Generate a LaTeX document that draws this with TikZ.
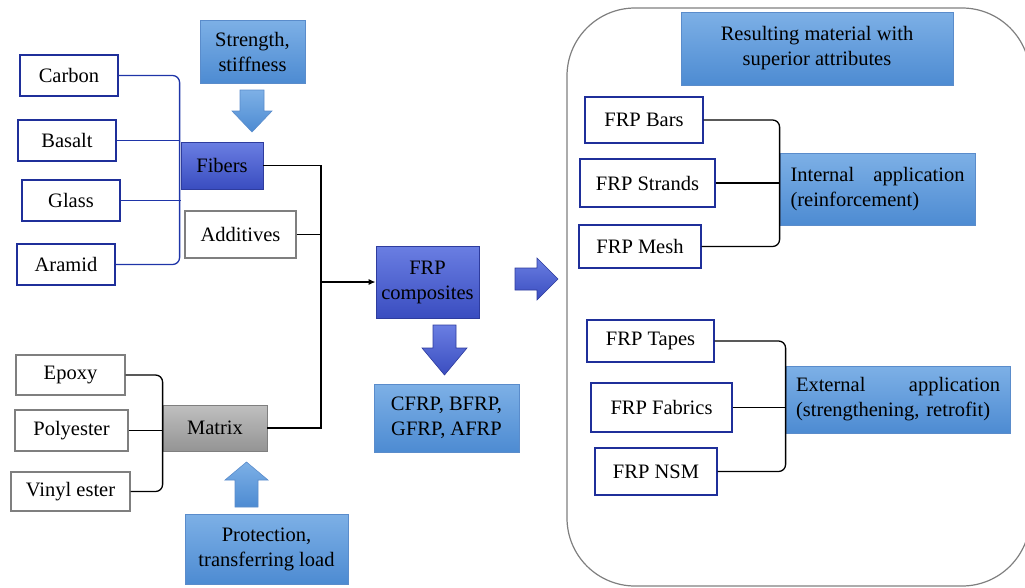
\documentclass[tikz,border=0pt]{standalone}
\usepackage{fontspec}
\setmainfont{Liberation Serif}
\usetikzlibrary{calc,arrows.meta}
\definecolor{navy}{HTML}{1F2F9A}
\definecolor{gbord}{HTML}{7F7F7F}
\definecolor{lbtop}{HTML}{7DB0E6}
\definecolor{lbbot}{HTML}{4D8BD2}
\definecolor{lbbord}{HTML}{5A8CCB}
\definecolor{dbtop}{HTML}{6A7EE2}
\definecolor{dbbot}{HTML}{3A4DC0}
\definecolor{dbbord}{HTML}{2E3C9E}
\definecolor{bline}{HTML}{1F35A8}
\begin{document}
\begin{tikzpicture}[x=1pt,y=-1pt,
  every node/.style={font=\fontsize{20.5}{25}\selectfont, inner sep=2pt},
  navybox/.style={draw=navy, line width=1.4pt, fill=white},
  graybox/.style={draw=gbord, line width=1.2pt, fill=white},
  lightbox/.style={draw=lbbord, line width=0.8pt, top color=lbtop, bottom color=lbbot, align=center},
  darkbox/.style={draw=dbbord, line width=0.8pt, top color=dbtop, bottom color=dbbot, align=center},
  matbox/.style={draw=gbord, line width=0.8pt, top color=black!25, bottom color=black!42},
  conn/.style={line width=1.3pt, black},
  bconn/.style={line width=1.3pt, bline},
  larrow/.style={draw=lbbord, line width=0.6pt, top color=lbtop, bottom color=lbbot},
  darrow/.style={draw=dbbord, line width=0.6pt, top color=dbtop, bottom color=dbbot},
]
\useasboundingbox (0,0) rectangle (1025,587);

% ---------- fibers side ----------
\node[navybox, minimum width=98, minimum height=41] (carbon) at (69,75.5) {Carbon};
\node[navybox, minimum width=98, minimum height=41] (basalt) at (67,140.5) {Basalt};
\node[navybox, minimum width=98, minimum height=41] (glass) at (71,200.5) {Glass};
\node[navybox, minimum width=98, minimum height=41] (aramid) at (66,264.5) {Aramid};
\node[darkbox, minimum width=82, minimum height=47] (fibers) at (222,165.5) {Fibers};
\node[lightbox, minimum width=105, minimum height=63] (strength) at (252.5,51.5) {Strength,\\stiffness};
\node[graybox, minimum width=111, minimum height=47] (additives) at (240.5,234.5) {Additives};

\draw[bconn, rounded corners=7] (carbon.east) -| ($(fibers.west |- aramid.east)+(-1,0)$) -- (aramid.east);
\draw[bconn] (basalt.east) -- ($(basalt.east -| fibers.west)+(-1,0)$);
\draw[bconn] (glass.east) -- ($(glass.east -| fibers.west)+(0,0)$);

% strength arrow
\path[larrow] (240,90) -- (264,90) -- (264,111) -- (272,111) -- (252,132) -- (232,111) -- (240,111) -- cycle;

% ---------- matrix side ----------
\node[graybox, minimum width=109, minimum height=40] (epoxy) at (70.5,375) {Epoxy};
\node[graybox, minimum width=113, minimum height=41] (polyester) at (71.5,430.5) {Polyester};
\node[graybox, minimum width=119, minimum height=39] (vinyl) at (70.5,491.5) {Vinyl ester};
\node[matbox, minimum width=104, minimum height=46] (matrix) at (215,428) {Matrix\hspace{26pt}};
\node[lightbox, minimum width=163, minimum height=70] (protect) at (266.5,549) {Protection,\\transferring load};

\draw[conn, rounded corners=7] (epoxy.east) -| (matrix.west |- vinyl.east) -- (vinyl.east);
\draw[conn] (polyester.east) -- (polyester.east -| matrix.west);

% protection arrow
\path[larrow] (235,507) -- (258,507) -- (258,480) -- (268,480) -- (246.5,462) -- (225,480) -- (235,480) -- cycle;

% ---------- centre ----------
\node[darkbox, minimum width=103, minimum height=72] (frp) at (427.5,282) {FRP\\composites};
\node[lightbox, minimum width=145, minimum height=68] (cfrp) at (446.5,418) {CFRP, BFRP,\\GFRP, AFRP};
\coordinate (jx) at (321,282);

\draw[conn] (fibers.east) -| (jx |- matrix.east) -- (matrix.east);
\draw[conn] (additives.east) -- (additives.east -| jx);
\draw[conn, -{Latex[length=7pt,width=6pt]}] (jx) -- (frp.west);

\path[darrow] (433,325) -- (456,325) -- (456,348) -- (467,348) -- (444.5,375) -- (422,348) -- (433,348) -- cycle;
\path[darrow] (515,268) -- (537,268) -- (537,258) -- (558,279) -- (537,300) -- (537,290) -- (515,290) -- cycle;

% ---------- right panel ----------
\draw[gbord, line width=1.2pt, rounded corners=68] (567,8) rectangle (1030,586);
\node[lightbox, minimum width=272, minimum height=73] (result) at (817,48.5) {Resulting material with\\superior attributes};

\node[navybox, minimum width=118, minimum height=46] (bars) at (644,120) {FRP Bars};
\node[navybox, minimum width=135, minimum height=48] (strands) at (647.5,183) {FRP Strands};
\node[navybox, minimum width=122, minimum height=43] (mesh) at (640,246.5) {FRP Mesh};
\node[lightbox, minimum width=195, minimum height=72, text width=174, align=left] (internal) at (877.5,189) {Internal\hfill application\\(reinforcement)};

\draw[conn, rounded corners=7] (bars.east) -| (internal.west |- mesh.east) -- (mesh.east);
\draw[conn] (strands.east) -- (strands.east -| internal.west);

\node[navybox, minimum width=127, minimum height=42] (tapes) at (650.5,341) {FRP Tapes};
\node[navybox, minimum width=141, minimum height=49] (fabrics) at (661.5,407.5) {FRP Fabrics};
\node[navybox, minimum width=122, minimum height=47] (nsm) at (656,471.5) {FRP NSM};
\node[lightbox, minimum width=224, minimum height=67, text width=204, align=left] (external) at (898,399.5) {External\hfill application\\(strengthening, retrofit)};

\draw[conn, rounded corners=7] (tapes.east) -| (external.west |- nsm.east) -- (nsm.east);
\draw[conn] (fabrics.east) -- (fabrics.east -| external.west);
\end{tikzpicture}
\end{document}
